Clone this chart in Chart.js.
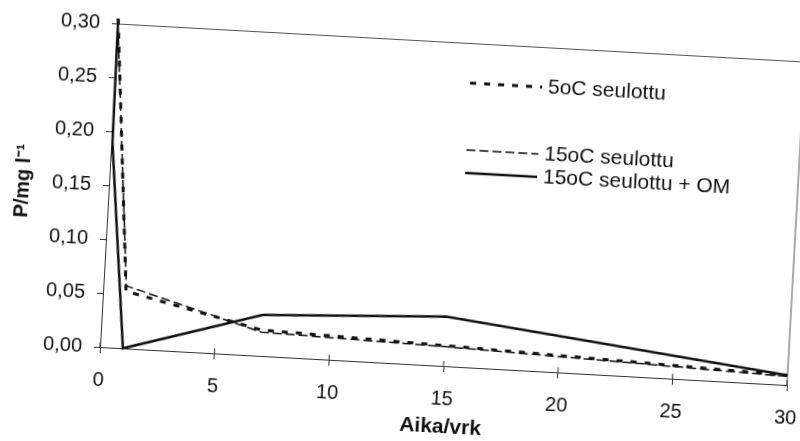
<!DOCTYPE html>
<html>
<head>
<meta charset="utf-8">
<title>P/mg l-1</title>
<script src="https://cdn.jsdelivr.net/npm/chart.js@4.4.1/dist/chart.umd.min.js"></script>
<style>
html,body{margin:0;padding:0;background:#fff;width:800px;height:441px;overflow:hidden}
#kuva{position:absolute;left:0;top:0;transform-origin:100px 347px;transform:rotate(3.17deg)}
</style>
</head>
<body>
<canvas id="kuva" width="800" height="441"></canvas>
<script>
// mittauspäivät
var paivat=[0,1,7,15,30];
var paivatOM=[0,0.05,1,7,15,30];
// P-pitoisuudet mg/l
var p5=[0.305,0.053,0.024,0.019,0.009];
var p15=[0.300,0.058,0.022,0.018,0.008];
var p15OM=[0.305,0.19,0.0,0.038,0.046,0.009];
var nimet=['5oC seulottu','15oC seulottu','15oC seulottu + OM'];
var xTicks=[0,5,10,15,20,25,30];
var yTicks=[0,0.05,0.10,0.15,0.20,0.25,0.30];

function pisteet(xs,ys){
    return xs.map(function(x,i){return {x:x,y:ys[i]}});
}

// selite piirretään itse kuva-alueen sisään
var selite={
    id:'selite',
    afterDraw:function(chart){
        var ctx=chart.ctx;
        var rivit=[63,130,153];
        ctx.save();
        chart.data.datasets.forEach(function(ds,i){
            ctx.beginPath();
            ctx.setLineDash(ds.borderDash||[]);
            ctx.lineWidth=ds.borderWidth;
            ctx.strokeStyle=ds.borderColor;
            ctx.moveTo(455,rivit[i]);
            ctx.lineTo(527,rivit[i]);
            ctx.stroke();
            ctx.setLineDash([]);
            ctx.fillStyle='#111';
            ctx.font='21px "Liberation Sans", Arial, sans-serif';
            ctx.textBaseline='middle';
            ctx.fillText(ds.label,533,rivit[i]);
        });
        ctx.restore();
    }
};

// kehys ylä- ja oikealle sekä x-akselin jakoviivat akselin yli
var kehys={
    id:'kehys',
    beforeDatasetsDraw:function(chart){
        var a=chart.chartArea, ctx=chart.ctx, xs=chart.scales.x;
        ctx.save();
        ctx.strokeStyle='#555';
        ctx.lineWidth=1;
        ctx.beginPath();
        ctx.moveTo(a.left,a.top);
        ctx.lineTo(a.right,a.top);
        ctx.lineTo(a.right,a.bottom);
        ctx.stroke();
        ctx.strokeStyle='#333';
        ctx.beginPath();
        xTicks.forEach(function(v){
            var px=xs.getPixelForValue(v);
            ctx.moveTo(px,a.bottom-5);
            ctx.lineTo(px,a.bottom);
        });
        ctx.stroke();
        ctx.restore();
    }
};

var ctx=document.getElementById('kuva').getContext('2d');
var kaavio=new Chart(ctx,{
    type:'line',
    data:{
        datasets:[{
            label:nimet[0],
            data:pisteet(paivat,p5),
            borderColor:'#111',
            borderWidth:3,
            borderDash:[6,8],
            pointRadius:0,
            clip:false
        },{
            label:nimet[1],
            data:pisteet(paivat,p15),
            borderColor:'#111',
            borderWidth:1.5,
            borderDash:[9,4],
            pointRadius:0,
            clip:false
        },{
            label:nimet[2],
            data:pisteet(paivatOM,p15OM),
            borderColor:'#111',
            borderWidth:2.5,
            pointRadius:0,
            clip:false
        }]
    },
    options:{
        responsive:false,
        animation:false,
        devicePixelRatio:1,
        layout:{padding:{left:0,right:12,top:23.5,bottom:0}},
        plugins:{legend:{display:false},tooltip:{enabled:false}},
        scales:{
            x:{
                type:'linear',
                min:0,max:30,
                afterBuildTicks:function(s){s.ticks=xTicks.map(function(v){return {value:v}})},
                afterFit:function(s){s.height=94;s.paddingLeft=0;s.paddingRight=0},
                grid:{drawOnChartArea:false,tickLength:6,tickColor:'#333'},
                border:{display:true,color:'#333',width:1},
                ticks:{color:'#111',padding:15,maxRotation:0,font:{family:'"Liberation Sans", Arial, sans-serif',size:20}},
                title:{display:true,text:'Aika/vrk',color:'#111',padding:{top:0,bottom:20},font:{family:'"Liberation Sans", Arial, sans-serif',size:21,weight:'bold'}}
            },
            y:{
                min:0,max:0.30,
                afterBuildTicks:function(s){s.ticks=yTicks.map(function(v){return {value:v}})},
                afterFit:function(s){s.width=100;s.paddingTop=0;s.paddingBottom=0},
                grid:{drawOnChartArea:false,tickLength:6,tickColor:'#333'},
                border:{display:true,color:'#333',width:1},
                ticks:{color:'#111',padding:12,font:{family:'"Liberation Sans", Arial, sans-serif',size:20},
                    callback:function(v){return v.toFixed(2).replace('.',',')}},
                title:{display:true,text:'P/mg l\u207B\u00B9',color:'#111',padding:{top:2,bottom:0},font:{family:'"Liberation Sans", Arial, sans-serif',size:20,weight:'bold'}}
            }
        }
    },
    plugins:[kehys,selite]
});
</script>
</body>
</html>
